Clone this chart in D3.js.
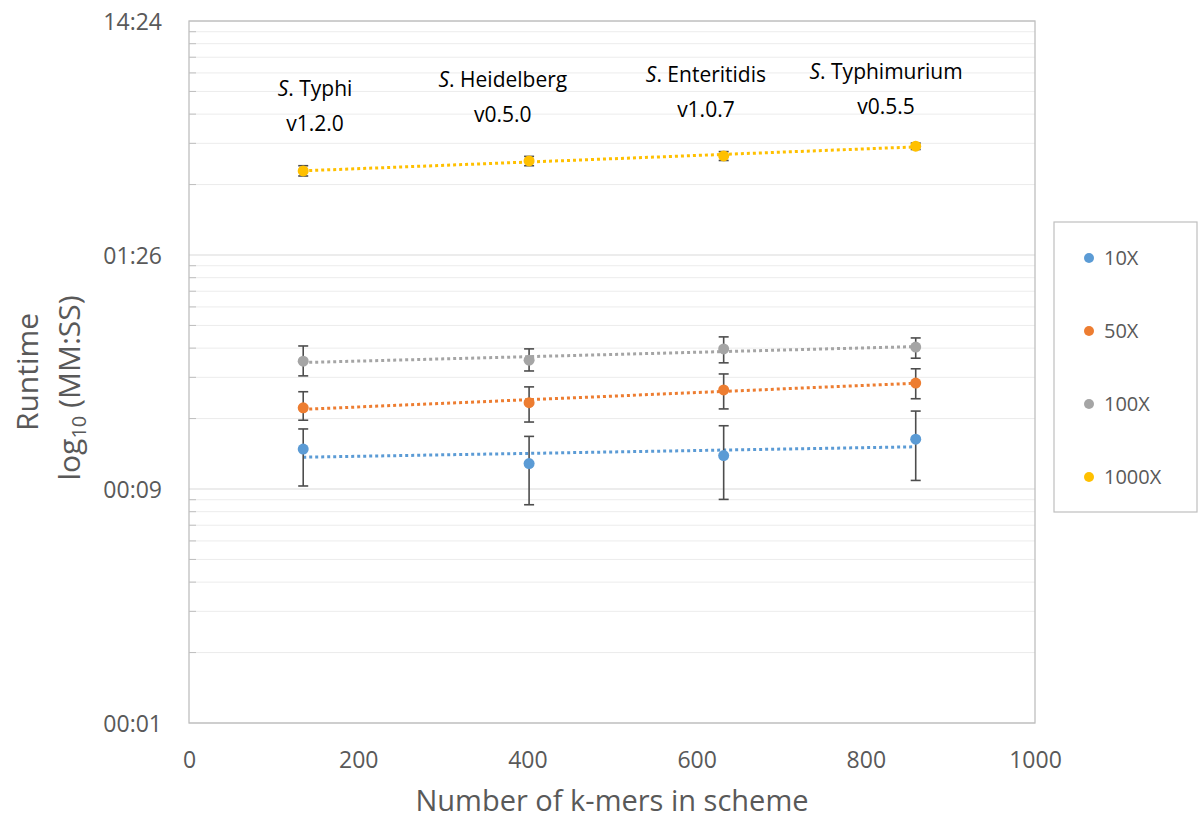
<!DOCTYPE html>
<html>
<head>
<meta charset="utf-8">
<script src="https://cdn.jsdelivr.net/npm/d3@7"></script>
<style>
 body { margin: 0; background: #fff; }
 svg text { font-family: "Open Sans", "Noto Sans", sans-serif; }
</style>
</head>
<body>
<svg id="chart" width="1200" height="821"></svg>
<script>
// values (runtime in seconds)
const kmers = [135, 402, 632, 859];
const schemeNames = ["Typhi", "Heidelberg", "Enteritidis", "Typhimurium"];
const schemeVersions = ["v1.2.0", "v0.5.0", "v1.0.7", "v0.5.5"];
const seriesNames = ["10X", "50X", "100X", "1000X"];
const rt10 = [12.8, 11.1, 12.0, 14.1];
const low10 = [8.9, 7.4, 7.8, 9.4];
const high10 = [15.6, 14.5, 16.1, 18.6];
const rt50 = [19.2, 20.2, 22.9, 24.5];
const low50 = [17.0, 16.7, 19.0, 21.0];
const high50 = [22.5, 23.6, 26.8, 28.2];
const rt100 = [30.4, 30.7, 34.3, 34.9];
const low100 = [26.3, 27.6, 29.9, 31.3];
const high100 = [35.3, 34.3, 38.6, 38.2];
const rt1000 = [197.5, 218, 229, 252];
const low1000 = [188, 208, 219, 244];
const high1000 = [208, 228, 239, 260];
const xTicks = [0, 200, 400, 600, 800, 1000];
const yMajor = [0.864, 8.64, 86.4, 864];

// layout
const colors = ["#5b9bd5", "#ed7d31", "#a5a5a5", "#ffc000"];
const plot = {left: 189, right: 1035, top: 21, bottom: 723};
const labelPos = [[149, 96], [371, 87], [611, 82], [824, 79]]; // k-mer x, pixel baseline
const grey = "#595959";

const svg = d3.select("#chart");
const x = d3.scaleLinear().domain([0, 1000]).range([plot.left, plot.right]);
const y = d3.scaleLog().domain([0.864, 864]).range([plot.bottom, plot.top]);

const yMinor = [];
yMajor.slice(0, 3).forEach(b => { for (let k = 2; k <= 9; k++) yMinor.push(b * k); });

function mmss(s) {
  const t = Math.round(s);
  return String(Math.floor(t / 60)).padStart(2, "0") + ":" + String(t % 60).padStart(2, "0");
}

// grid
svg.append("g").selectAll("line").data(yMinor).join("line")
  .attr("x1", plot.left).attr("x2", plot.right)
  .attr("y1", d => y(d)).attr("y2", d => y(d))
  .attr("stroke", "#ececec").attr("stroke-width", 1);
svg.append("g").selectAll("line").data(yMinor).join("line")
  .attr("x1", plot.left).attr("x2", plot.left + 7)
  .attr("y1", d => y(d)).attr("y2", d => y(d))
  .attr("stroke", "#bfbfbf").attr("stroke-width", 1);
svg.append("g").selectAll("line").data(yMajor).join("line")
  .attr("x1", plot.left).attr("x2", plot.right)
  .attr("y1", d => y(d)).attr("y2", d => y(d))
  .attr("stroke", "#d9d9d9").attr("stroke-width", 1);
svg.append("rect")
  .attr("x", plot.left).attr("y", plot.top)
  .attr("width", plot.right - plot.left).attr("height", plot.bottom - plot.top)
  .attr("fill", "none").attr("stroke", "#bfbfbf").attr("stroke-width", 1.3);

// axes
const yAxis = svg.append("g").attr("transform", `translate(${plot.left - 27},0)`)
  .call(d3.axisLeft(y).tickValues(yMajor).tickFormat(mmss).tickSize(0));
yAxis.select(".domain").remove();
yAxis.selectAll("text").attr("fill", grey).attr("font-size", 23)
  .attr("font-family", "Open Sans").attr("dx", 0).attr("dy", "0.35em").attr("x", 0);

const xAxis = svg.append("g").attr("transform", `translate(0,${plot.bottom + 29})`)
  .call(d3.axisBottom(x).tickValues(xTicks).tickFormat(d3.format("d")).tickSize(0));
xAxis.select(".domain").remove();
xAxis.selectAll("text").attr("fill", grey).attr("font-size", 23)
  .attr("font-family", "Open Sans").attr("y", 0).attr("dy", "0.71em");

svg.append("text").attr("x", (plot.left + plot.right) / 2).attr("y", 811)
  .attr("text-anchor", "middle").attr("font-size", 29).attr("fill", grey)
  .text("Number of k-mers in scheme");

svg.append("text").attr("transform", "translate(38,372) rotate(-90)")
  .attr("text-anchor", "middle").attr("font-size", 30).attr("fill", grey)
  .text("Runtime");
const yt2 = svg.append("text").attr("transform", "translate(80,388) rotate(-90)")
  .attr("text-anchor", "middle").attr("font-size", 30).attr("fill", grey);
yt2.append("tspan").text("log");
yt2.append("tspan").attr("font-size", 20).attr("dy", 6).text("10");
yt2.append("tspan").attr("dy", -6).text(" (MM:SS)");

// series
const series = [
  {name: seriesNames[0], v: rt10, lo: low10, hi: high10, c: colors[0]},
  {name: seriesNames[1], v: rt50, lo: low50, hi: high50, c: colors[1]},
  {name: seriesNames[2], v: rt100, lo: low100, hi: high100, c: colors[2]},
  {name: seriesNames[3], v: rt1000, lo: low1000, hi: high1000, c: colors[3]}
];

// trendlines: least squares on log10(runtime)
function fit(xs, vs) {
  const ly = vs.map(v => Math.log10(v));
  const mx = d3.mean(xs), my = d3.mean(ly);
  const b = d3.sum(xs, (xx, i) => (xx - mx) * (ly[i] - my)) / d3.sum(xs, xx => (xx - mx) * (xx - mx));
  return xx => Math.pow(10, my + b * (xx - mx));
}
series.forEach(s => {
  const f = fit(kmers, s.v);
  const ends = [d3.min(kmers), d3.max(kmers)];
  svg.append("line")
    .attr("x1", x(ends[0])).attr("x2", x(ends[1]))
    .attr("y1", y(f(ends[0]))).attr("y2", y(f(ends[1])))
    .attr("stroke", s.c).attr("stroke-width", 3).attr("stroke-dasharray", "3,3");
});

series.forEach(s => {
  const g = svg.append("g");
  const pts = kmers.map((k, i) => ({k: k, v: s.v[i], lo: s.lo[i], hi: s.hi[i]}));
  g.selectAll("circle").data(pts).join("circle")
    .attr("cx", d => x(d.k)).attr("cy", d => y(d.v)).attr("r", 5.5)
    .attr("fill", s.c);
  const eb = g.selectAll("g.eb").data(pts).join("g").attr("class", "eb")
    .attr("stroke", "#4d4d4d").attr("stroke-width", 1.6);
  eb.append("line").attr("x1", d => x(d.k)).attr("x2", d => x(d.k))
    .attr("y1", d => y(d.lo)).attr("y2", d => y(d.hi));
  eb.append("line").attr("x1", d => x(d.k) - 5).attr("x2", d => x(d.k) + 5)
    .attr("y1", d => y(d.lo)).attr("y2", d => y(d.lo));
  eb.append("line").attr("x1", d => x(d.k) - 5).attr("x2", d => x(d.k) + 5)
    .attr("y1", d => y(d.hi)).attr("y2", d => y(d.hi));
  g.selectAll("circle").raise();
});

// scheme labels
schemeNames.forEach((n, i) => {
  const cx = x(labelPos[i][0]);
  const t = svg.append("text").attr("x", cx).attr("y", labelPos[i][1])
    .attr("text-anchor", "middle").attr("font-size", 21).attr("fill", "#000");
  t.append("tspan").attr("font-style", "italic").text("S");
  t.append("tspan").text(". " + n);
  svg.append("text").attr("x", cx).attr("y", labelPos[i][1] + 35)
    .attr("text-anchor", "middle").attr("font-size", 21).attr("fill", "#000")
    .text(schemeVersions[i]);
});

// legend
const lg = svg.append("g");
lg.append("rect").attr("x", 1054).attr("y", 222).attr("width", 143).attr("height", 290)
  .attr("fill", "#fff").attr("stroke", "#bfbfbf").attr("stroke-width", 1.2);
const ly = d3.scalePoint().domain(seriesNames).range([258, 477]);
series.forEach(s => {
  lg.append("circle").attr("cx", 1089).attr("cy", ly(s.name)).attr("r", 5).attr("fill", s.c);
  lg.append("text").attr("x", 1104).attr("y", ly(s.name)).attr("dy", "0.35em")
    .attr("font-size", 20).attr("fill", grey).text(s.name);
});
</script>
</body>
</html>
